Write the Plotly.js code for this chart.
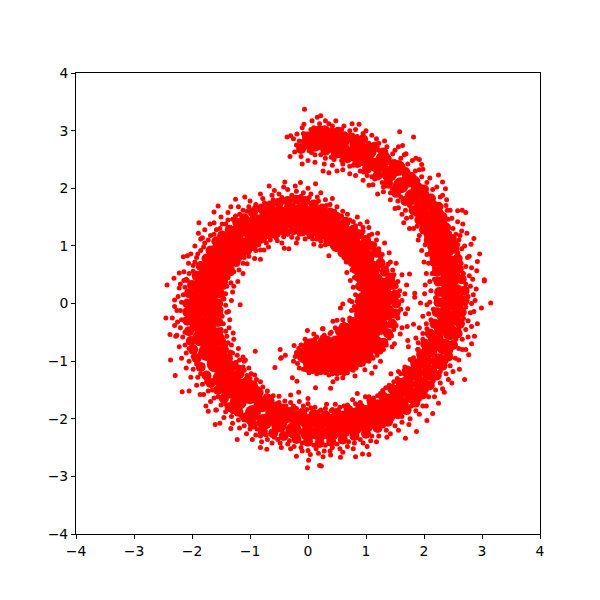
<!DOCTYPE html>
<html><head><meta charset="utf-8">
<script src="https://cdn.plot.ly/plotly-3.0.1.min.js"></script>
<style>html,body{margin:0;padding:0;background:#fff}</style></head>
<body><div id="chart" style="width:600px;height:600px"></div>
<script>
// Points. Dense parts merge into solid red, so the core and fill lists mark where that solid band runs.
const denseCore = [[-0.05,-0.9],[0.05,-0.75],[0.05,-1.0],[0.2,-0.8],[0.2,-1.0],[0.3,-0.7],[0.35,-0.9],[0.4,-1.05],[0.5,-0.7],[0.5,-0.9],[0.55,-1.05],[0.65,-0.6],[0.65,-0.8],[0.7,-1.0],[0.8,-0.5],[0.8,-0.7],[0.85,-0.9],[0.95,-0.4],[0.95,-0.6],[1.0,-0.8],[1.05,-0.3],[1.1,-0.5],[1.15,-0.7],[1.0,-0.15],[1.15,-0.2],[1.25,-0.4],[1.05,0.0],[1.2,0.0],[1.35,-0.15],[1.05,0.2],[1.2,0.2],[1.35,0.1],[1.0,0.4],[1.15,0.4],[1.3,0.3],[0.95,0.6],[1.1,0.6],[0.85,0.75],[1.0,0.8],[0.75,0.9],[0.9,0.95],[0.6,1.05],[0.75,1.1],[0.45,1.15],[0.6,1.25],[0.3,1.25],[0.45,1.35],[0.15,1.35],[0.3,1.45],[0,1.4],[0.1,1.55],[-0.15,1.45],[-0.1,1.6],[-0.3,1.45],[-0.3,1.6],[-0.45,1.4],[-0.5,1.55],[-0.6,1.35],[-0.7,1.5],[-0.8,1.25],[-0.9,1.4],[-0.95,1.15],[-1.05,1.3],[-1.15,1.0],[-1.25,1.2],[-1.3,0.85],[-1.4,1.05],[-1.45,0.7],[-1.55,0.9],[-1.55,0.5],[-1.65,0.7],[-1.6,0.3],[-1.75,0.5],[-1.7,0.1],[-1.85,0.3],[-1.7,-0.1],[-1.9,0.1],[-1.7,-0.3],[-1.9,-0.1],[-1.7,-0.5],[-1.9,-0.35],[-1.65,-0.7],[-1.85,-0.6],[-1.55,-0.9],[-1.75,-0.85],[-1.45,-1.1],[-1.6,-1.05],[-1.3,-1.3],[-1.5,-1.3],[-1.15,-1.45],[-1.35,-1.5],[-1.0,-1.6],[-1.2,-1.7]];
const armCore = [[-0.8,-1.75],[-0.95,-1.9],[-0.6,-1.9],[-0.75,-2.05],[-0.4,-1.95],[-0.5,-2.1],[-0.2,-2.0],[-0.25,-2.2],[0,-2.05],[0,-2.25],[0.2,-2.05],[0.2,-2.25],[0.4,-2.05],[0.4,-2.25],[0.6,-2.0],[0.6,-2.2],[0.8,-1.95],[0.8,-2.15],[1.0,-1.9],[1.0,-2.1],[1.2,-1.8],[1.2,-2.0],[1.4,-1.7],[1.4,-1.9],[1.55,-1.55],[1.6,-1.75],[1.7,-1.4],[1.8,-1.6],[1.85,-1.2],[1.95,-1.4],[2.0,-1.0],[2.1,-1.2],[2.1,-0.8],[2.25,-1.0],[2.2,-0.6],[2.35,-0.75],[2.3,-0.4],[2.45,-0.5],[2.35,-0.2],[2.5,-0.25],[2.4,0],[2.55,0],[2.4,0.2],[2.55,0.2],[2.4,0.4],[2.5,0.45],[2.35,0.6],[2.45,0.7],[2.3,0.8],[2.4,0.95],[2.2,1.0],[2.3,1.15],[2.15,1.25],[2.25,1.35],[2.05,1.45],[2.2,1.55],[1.95,1.65],[2.05,1.75],[1.8,1.85],[1.9,1.95],[1.6,2.05],[1.75,2.15],[1.4,2.25],[1.55,2.35],[1.2,2.4],[1.3,2.5],[1.0,2.5],[1.05,2.65],[0.8,2.6],[0.85,2.75],[0.6,2.65],[0.6,2.85],[0.4,2.75],[0.4,2.9],[0.2,2.8],[0.2,2.95],[0.05,2.85]];
const fillInnerOuter = [[0.0,-1.12],[0.15,-1.13],[0.3,-1.13],[0.45,-1.16],[0.6,-1.14],[0.75,-1.1],[0.9,-1.02],[1.05,-0.92],[1.2,-0.8],[1.3,-0.68],[1.38,-0.52],[1.45,-0.35],[1.5,-0.18],[1.52,0.0],[1.5,0.15],[1.47,0.32],[1.42,0.45],[1.32,0.55],[1.25,0.7],[1.18,0.88],[1.1,1.0],[1.0,1.1],[0.88,1.2],[0.78,1.28],[0.65,1.42],[0.5,1.5],[0.38,1.58],[0.25,1.65],[0.1,1.72],[-0.05,1.78],[-0.2,1.8],[-0.35,1.78],[-0.5,1.75],[-0.65,1.7],[-0.8,1.65],[-0.95,1.58],[-1.1,1.48],[-1.22,1.4],[-1.35,1.28],[-1.48,1.18],[-1.58,1.08],[-1.68,0.92],[-1.75,0.78],[-1.85,0.65],[-1.92,0.48],[-2.0,0.32],[-2.05,0.18],[-2.08,0.0],[-2.08,-0.15],[-2.08,-0.3],[-2.05,-0.48],[-2.02,-0.65],[-1.98,-0.8],[-1.92,-0.95],[-1.85,-1.1],[-1.75,-1.25],[-1.68,-1.38],[-1.55,-1.5],[-1.45,-1.65],[-1.35,-1.8],[-1.2,-1.88],[-1.08,-1.98]];
const fillInnerInner = [[0.55,-0.48],[0.65,-0.42],[0.78,-0.32],[0.88,-0.2],[0.9,-0.05],[0.92,0.1],[0.9,0.3],[0.88,0.45],[0.82,0.6],[0.7,0.76],[0.6,0.88],[0.48,0.98],[0.35,1.08],[0.2,1.18],[0.05,1.22],[-0.1,1.25],[-0.25,1.27],[-0.4,1.25],[-0.55,1.22],[-0.7,1.2],[-0.82,1.12],[-0.95,1.0],[-1.05,0.92],[-1.15,0.85],[-1.25,0.72],[-1.35,0.6],[-1.42,0.48],[-1.48,0.35],[-1.52,0.18],[-1.55,0.0],[-1.55,-0.15],[-1.55,-0.32],[-1.55,-0.5],[-1.5,-0.65],[-1.45,-0.8],[-1.38,-0.95],[-1.28,-1.08],[-1.18,-1.22],[-1.05,-1.35],[-0.95,-1.42],[-0.85,-1.55],[-0.7,-1.65]];
const fillArmInner = [[-0.62,-1.78],[-0.45,-1.82],[-0.3,-1.88],[-0.1,-1.9],[0.1,-1.92],[0.3,-1.94],[0.5,-1.9],[0.7,-1.85],[0.9,-1.8],[1.1,-1.72],[1.3,-1.62],[1.45,-1.48],[1.6,-1.38],[1.72,-1.22],[1.85,-1.05],[1.95,-0.88],[2.02,-0.7],[2.1,-0.52],[2.18,-0.35],[2.22,-0.15],[2.25,0.02],[2.26,0.2],[2.25,0.38],[2.22,0.55],[2.18,0.72],[2.15,0.88],[2.08,1.1],[2.0,1.28],[1.92,1.45],[1.82,1.62],[1.68,1.78],[1.52,1.92],[1.38,2.08],[1.2,2.22],[1.02,2.34],[0.85,2.44],[0.68,2.52],[0.48,2.6],[0.3,2.65],[0.12,2.72]];
const fillArmOuter = [[-0.95,-2.1],[-0.78,-2.22],[-0.6,-2.25],[-0.42,-2.3],[-0.2,-2.35],[0.0,-2.4],[0.2,-2.42],[0.4,-2.4],[0.6,-2.36],[0.8,-2.3],[1.0,-2.26],[1.2,-2.16],[1.38,-2.05],[1.55,-1.92],[1.7,-1.85],[1.85,-1.72],[1.98,-1.58],[2.1,-1.42],[2.22,-1.25],[2.32,-1.08],[2.42,-0.92],[2.5,-0.72],[2.58,-0.52],[2.62,-0.35],[2.65,-0.15],[2.7,0.05],[2.7,0.22],[2.65,0.42],[2.6,0.6],[2.58,0.78],[2.52,0.95],[2.48,1.12],[2.38,1.32],[2.32,1.5],[2.25,1.68],[2.12,1.82],[2.0,1.98],[1.85,2.12],[1.68,2.28],[1.48,2.42],[1.3,2.62],[1.15,2.72],[0.95,2.85],[0.75,2.88],[0.52,2.98],[0.3,3.0],[0.12,2.95],[-0.02,2.9],[0.0,2.75],[-0.12,2.68]];
const strayTopRight = [[-0.06,3.37],[-0.07,3.11],[0.07,3.17],[0.16,3.23],[0.22,3.26],[0.30,3.17],[0.48,3.17],[0.76,3.12],[0.88,3.11],[-0.36,2.89],[-0.30,2.91],[-0.19,2.94],[-0.31,2.55],[-0.23,2.63],[-0.10,2.42],[0.26,2.30],[0.36,2.27],[1.58,2.98],[1.82,2.89],[1.56,2.72],[1.63,2.74],[1.69,2.60],[1.86,2.52],[1.92,2.50],[1.98,2.33],[1.96,2.41],[2.25,2.23],[2.32,2.11],[2.37,1.99],[2.39,1.80],[2.58,1.61],[2.66,1.62],[2.72,1.58],[2.67,1.38],[2.65,1.26],[2.74,1.22],[2.86,1.13],[2.81,1.03],[2.96,0.86],[2.92,0.73],[2.91,0.57],[3.04,0.41]];
const strayLeft = [[-2.43,0.32],[-2.31,0.44],[-2.22,0.53],[-2.15,0.81],[-2.08,0.83],[-1.89,1.22],[-1.88,1.40],[-1.82,1.14],[-1.69,1.38],[-1.62,1.59],[-1.55,1.69],[-1.25,1.81],[-1.09,1.85],[-1.33,1.68],[-0.67,2.04],[-0.40,2.11],[-0.13,2.10],[0.13,2.08],[-2.45,-0.25],[-2.34,-0.25],[-2.30,-0.38],[-2.38,-0.54],[-2.28,-0.57],[-2.30,-0.05],[-2.30,0.06],[-2.22,0.27],[-2.14,0.40],[-1.17,-0.02],[-1.40,-0.15],[-1.37,-0.14],[-1.36,-0.42],[-1.29,-0.51],[-1.49,-0.57],[-1.40,-0.57],[-0.91,-0.83],[-1.21,0.38],[-1.33,0.36],[-1.42,0.17],[-1.19,0.58],[-1.05,0.69],[-0.82,0.77],[-0.76,0.93],[-0.82,0.93],[-0.53,1.09],[-0.41,0.96],[-0.33,0.95],[0.10,1.03],[0.22,1.00],[0.36,0.83]];
const strayTail = [[-0.48,-0.80],[-0.01,-0.47],[0.25,-0.44],[0.10,-0.53],[-0.24,-0.73],[-0.39,-0.90],[-0.47,-0.95],[-0.57,-1.11],[-0.46,-0.94],[-0.27,-1.29],[-0.19,-1.35],[0.13,-1.46],[0.60,-0.01],[0.56,-0.08],[0.76,0.03],[0.85,0.04],[0.43,-0.31],[0.50,-0.29],[0.26,-0.44],[0.73,0.40],[0.67,0.54],[0.81,-1.26],[0.60,-1.29],[0.50,-1.30],[0.43,-1.36],[0.39,-1.47]];
const strayBottom = [[-2.37,-0.98],[-2.29,-1.25],[-2.17,-1.53],[-2.05,-1.52],[-1.86,-1.58],[-1.76,-1.78],[-1.72,-1.87],[-1.59,-1.85],[-1.60,-2.10],[-1.52,-2.08],[-1.33,-2.17],[-1.22,-2.36],[-0.82,-2.50],[-0.71,-2.53],[-0.20,-2.65],[-0.01,-2.85],[0.01,-2.72],[0.20,-2.81],[0.26,-2.66],[-1.12,-0.93],[-1.10,-1.00],[-1.19,-1.10],[-1.05,-1.25],[-0.89,-1.32],[-0.90,-1.46],[-0.60,-1.60],[-0.50,-1.61],[-0.40,-1.69],[-0.30,-1.59],[-0.30,-1.72],[-0.16,-1.54],[-0.15,-1.70],[0.00,-1.65],[0.00,-1.74],[0.05,-1.81],[0.30,-1.82]];
const strayRight = [[3.15,0.01],[3.04,0.39],[2.99,-0.08],[2.92,-0.35],[2.87,-0.57],[2.82,-0.70],[2.77,-0.89],[2.72,-0.80],[2.70,-1.32],[2.61,-1.14],[2.48,-1.38],[2.35,-1.54],[2.25,-1.73],[2.15,-1.91],[2.05,-2.03],[1.87,-2.22],[1.68,-2.34],[1.36,-2.32],[1.05,-2.62],[0.94,-2.61],[0.82,-2.66],[0.56,-2.67],[0.39,-2.63],[0.23,-2.82],[1.94,0.01],[2.01,0.17],[1.82,-0.36],[1.72,-0.64],[1.73,-0.75],[1.89,-0.80],[1.76,-0.97],[1.67,-1.10],[1.56,-1.18],[1.43,-1.22],[1.29,-1.51],[1.13,-1.64],[0.99,-1.62],[0.85,-1.56],[0.77,-1.67],[0.47,-1.75],[0.32,-1.75],[1.75,0.51],[1.84,0.18],[1.84,0.11],[1.72,-0.09],[1.71,-0.40],[1.67,0.17],[1.59,-0.53],[1.49,-0.70],[1.19,-0.90],[1.16,-1.10],[1.10,-1.21]];
const edgeTailArc = [[-0.2,-0.85],[-0.25,-1.0],[-0.15,-1.12],[-0.05,-0.62],[0.02,-1.2],[0.12,-0.62],[0.15,-1.22],[0.28,-0.55],[0.3,-1.2],[0.38,-0.52],[0.42,-1.22],[0.55,-1.2],[0.47,-0.42],[0.68,-1.2],[0.58,-0.38],[0.6,-0.28],[0.83,-1.12],[0.72,-0.25],[0.95,-1.05],[1.05,-1.0],[0.75,-0.12],[0.72,0.05],[1.3,-0.8],[0.8,-0.05],[1.4,-0.6],[1.48,-0.45],[0.82,0.15],[0.78,0.28],[1.55,-0.25],[1.6,-0.1],[1.62,0.05],[0.8,0.45],[1.58,0.22],[0.76,0.58],[1.55,0.38],[0.66,0.72],[1.48,0.5],[0.55,0.88],[1.35,0.62],[1.42,0.72],[0.42,1.0],[1.28,0.85],[1.22,0.95],[1.18,1.1],[1.1,1.2],[0.95,1.25],[1.05,1.32],[0.9,1.38],[0.78,1.42],[0.85,1.5],[0.68,1.55],[0.6,1.6],[0.5,1.68],[0.38,1.72],[0.3,1.8],[0.16,1.85],[0.05,1.9],[-0.08,1.92],[-0.2,1.95],[-0.35,1.98],[-0.5,1.9],[-0.62,1.88],[-0.78,1.82],[-0.9,1.72],[-1.02,1.68],[-1.12,1.62],[0.22,1.08],[0.08,1.12],[-0.05,1.12],[-0.18,1.13],[-0.28,1.15],[-0.42,1.16],[-0.55,1.14],[-0.65,1.1],[-0.72,1.05],[-0.85,1.02],[-0.9,0.92]];
const edgeLeftArc = [[-1.25,1.52],[-1.38,1.45],[-1.48,1.38],[-1.58,1.28],[-1.68,1.18],[-1.78,1.05],[-1.85,0.92],[-1.92,0.8],[-1.98,0.66],[-2.05,0.52],[-2.08,0.4],[-2.12,0.28],[-2.15,0.15],[-2.18,0.02],[-2.2,-0.12],[-2.18,-0.28],[-2.2,-0.42],[-2.16,-0.58],[-2.12,-0.72],[-2.1,-0.86],[-2.05,-1.0],[-1.98,-1.14],[-1.9,-1.28],[-1.82,-1.4],[-1.72,-1.52],[-1.62,-1.64],[-1.5,-1.76],[-1.42,-1.88],[-1.32,-1.96],[-1.2,-2.02],[-1.1,-2.12],[-1.0,-2.18],[-0.9,-2.28],[-1.02,0.82],[-1.12,0.7],[-1.18,0.78],[-1.22,0.68],[-1.28,0.55],[-1.38,0.45],[-1.4,0.3],[-1.45,0.28],[-1.45,0.08],[-1.42,-0.03],[-1.48,-0.22],[-1.46,-0.35],[-1.42,-0.48],[-1.38,-0.68],[-1.32,-0.72],[-1.3,-0.86],[-1.22,-0.9],[-1.18,-0.98],[-1.12,-1.1],[-1.02,-1.12],[-0.98,-1.22],[-0.92,-1.24],[-0.82,-1.36],[-0.78,-1.45],[-0.7,-1.52]];
const edgeBottomArc = [[-0.82,-2.3],[-0.7,-2.36],[-0.58,-2.32],[-0.48,-2.42],[-0.35,-2.44],[-0.24,-2.48],[-0.12,-2.5],[0.0,-2.55],[0.14,-2.52],[0.28,-2.56],[0.42,-2.5],[0.55,-2.52],[0.68,-2.48],[0.8,-2.42],[0.95,-2.42],[1.08,-2.38],[1.22,-2.3],[1.35,-2.2],[1.5,-2.12],[1.62,-2.06],[1.76,-2.0],[1.86,-1.86],[1.98,-1.78],[2.08,-1.62],[2.2,-1.5],[2.28,-1.38],[2.38,-1.22],[2.45,-1.08],[2.54,-0.95],[2.6,-0.78],[2.66,-0.62],[2.72,-0.45],[2.76,-0.3],[2.8,-0.16],[2.82,0.0],[2.85,0.15],[2.8,0.3],[2.78,0.48],[2.72,0.64],[2.75,0.8],[2.65,0.95],[2.6,1.1],[2.5,1.3],[2.48,1.48],[2.4,1.62],[-0.5,-1.72],[-0.62,-1.68],[-0.25,-1.78],[-0.08,-1.78],[0.12,-1.8],[0.22,-1.85],[0.42,-1.84],[0.55,-1.8],[0.68,-1.76],[0.9,-1.72],[1.05,-1.68],[1.2,-1.6],[1.34,-1.46],[1.48,-1.36],[1.6,-1.22],[1.72,-1.12],[1.82,-0.94],[1.9,-0.68],[1.98,-0.52],[2.04,-0.35],[2.08,-0.18],[2.1,0.02],[2.12,0.22],[2.1,0.38],[2.14,0.52]];
const edgeUpperArm = [[2.08,0.7],[2.05,0.85],[2.02,1.02],[1.92,1.18],[1.88,1.34],[1.78,1.5],[1.68,1.62],[1.55,1.78],[1.42,1.92],[1.3,2.02],[1.15,2.16],[1.02,2.22],[0.9,2.3],[0.72,2.38],[0.6,2.42],[0.45,2.5],[0.3,2.52],[0.12,2.58],[0.02,2.65],[-0.08,2.75],[-0.15,2.82],[-0.08,2.95],[0.1,3.05],[0.28,3.05],[0.42,3.08],[0.58,3.02],[0.72,3.0],[0.95,2.95],[1.1,2.92],[1.22,2.78],[1.36,2.72],[1.46,2.6],[1.6,2.52],[1.72,2.42],[1.85,2.3],[1.96,2.2],[2.05,2.1],[2.15,1.98],[2.28,1.85],[2.38,1.7],[2.42,1.46],[2.55,1.2],[2.58,1.02],[1.5,1.65],[1.65,1.4],[1.75,1.3],[0.5,2.3],[0.72,2.25],[1.05,2.05],[1.2,1.9],[1.62,1.55]];
const stippleExtra = [[-2.0,0.1],[-2.02,-0.08],[-2.0,-0.22],[-2.12,-0.5],[-2.1,0.42],[-1.98,0.56],[-1.95,0.72],[-1.9,0.86],[-1.8,0.98],[-1.72,1.1],[-1.62,1.2],[-1.52,1.3],[-1.42,1.38],[-1.3,1.46],[-1.18,1.55],[-1.05,1.6],[-0.92,1.66],[-0.75,1.75],[-0.6,1.8],[-0.45,1.84],[-0.28,1.88],[-0.12,1.86],[0.02,1.84],[0.18,1.78],[0.32,1.7],[0.46,1.6],[0.58,1.52],[0.72,1.45],[0.82,1.35],[0.95,1.32],[1.05,1.18],[1.15,1.02],[1.25,0.8],[1.38,0.68],[1.46,0.58],[-2.05,-0.78],[-1.98,-0.92],[-1.92,-1.05],[-1.85,-1.22],[-1.75,-1.36],[-1.65,-1.5],[-1.55,-1.62],[-1.42,-1.75],[-1.3,-1.88],[-1.15,-1.95],[-1.02,-2.05],[-0.88,-2.18],[-0.72,-2.28],[-0.52,-2.36],[-0.32,-2.38],[-0.1,-2.42],[0.1,-2.46],[0.3,-2.46],[0.5,-2.44],[0.7,-2.4],[0.9,-2.36],[1.1,-2.3],[1.3,-2.12],[1.45,-2.0],[1.62,-1.96],[1.78,-1.78],[1.92,-1.66],[2.04,-1.5],[2.16,-1.34],[2.28,-1.18],[2.38,-1.0],[2.46,-0.82],[2.55,-0.62],[2.6,-0.44],[2.68,-0.26],[2.72,-0.06],[2.76,0.12],[2.72,0.34],[2.68,0.52],[2.64,0.7],[2.58,0.88],[2.54,1.06],[2.44,1.22],[2.36,1.4],[2.3,1.58],[2.18,1.75],[2.05,1.9],[1.92,2.05],[1.78,2.2],[1.58,2.34],[1.4,2.52],[1.22,2.66],[1.05,2.78],[0.85,2.9],[0.64,2.94],[0.42,3.02],[0.18,3.0],[0.05,3.02],[-0.08,2.82],[-0.14,2.74],[0.06,2.62],[0.22,2.58],[0.4,2.54],[0.58,2.48],[0.78,2.4],[0.96,2.28],[1.1,2.2],[1.28,2.1],[1.45,2.0],[1.6,1.85],[1.75,1.7],[1.86,1.55],[1.96,1.36],[2.04,1.18],[2.1,0.98],[2.14,0.78],[2.18,0.62],[2.18,0.42],[2.2,0.1],[2.16,-0.1],[2.12,-0.28],[2.05,-0.44],[1.98,-0.62],[1.9,-0.8],[1.8,-1.0],[1.66,-1.16],[1.54,-1.3],[1.4,-1.42],[1.25,-1.56],[1.05,-1.62],[0.82,-1.74],[0.62,-1.78],[0.4,-1.86],[0.18,-1.88],[-0.02,-1.84],[-0.2,-1.82],[-0.38,-1.78],[-0.55,-1.74],[-0.72,-1.6],[-0.86,-1.48],[-1.0,-1.3],[-1.1,-1.16],[-1.24,-1.02],[-1.34,-0.84],[-1.42,-0.72],[-1.5,-0.45],[-1.5,-0.1],[-1.47,0.1],[-1.42,0.38],[-1.32,0.52],[-1.2,0.75],[-1.1,0.8],[-0.98,0.95],[-0.75,1.12],[-0.6,1.17],[-0.35,1.2],[-0.15,1.2],[0.02,1.16],[0.15,1.12],[0.3,1.02],[0.5,0.94],[0.62,0.8],[0.74,0.68],[0.84,0.52],[0.86,0.3],[0.86,0.08],[0.82,-0.12],[0.72,-0.3],[0.62,-0.36],[0.5,-0.46],[0.4,-0.5],[0.25,-0.58],[0.15,-0.58],[0.0,-0.66],[-0.12,-0.72],[-0.16,-0.78],[-0.22,-0.92],[-0.18,-1.04],[-0.08,-1.14],[0.08,-1.18],[0.22,-1.2],[0.36,-1.24],[0.5,-1.22],[0.62,-1.22],[0.78,-1.16],[0.98,-1.0],[1.12,-0.95],[1.25,-0.84],[1.35,-0.72],[1.44,-0.56],[1.52,-0.38],[1.56,-0.14],[1.56,0.14],[1.52,0.3]];
const secondPass = [[-0.12,2.55],[0.0,2.48],[0.12,2.45],[0.28,2.42],[0.42,2.4],[0.6,2.32],[0.82,2.22],[0.95,2.14],[1.12,2.06],[1.3,1.94],[1.42,1.8],[1.56,1.66],[1.7,1.48],[1.82,1.3],[1.9,1.1],[1.96,0.92],[2.0,0.72],[2.04,0.52],[2.02,0.32],[2.05,-0.02],[1.98,-0.22],[1.92,-0.42],[1.86,-0.6],[-0.2,2.75],[-0.25,2.86],[-0.1,3.05],[0.2,3.12],[0.36,3.12],[0.62,3.08],[0.82,3.02],[1.0,3.0],[1.18,2.86],[1.32,2.82],[1.5,2.66],[1.66,2.58],[1.8,2.48],[1.92,2.32],[2.1,2.18],[2.22,2.02],[2.32,1.88],[2.45,1.62],[2.58,1.42],[2.62,1.18],[2.7,1.0],[2.78,0.82],[2.82,0.62],[2.84,0.42],[2.9,0.25],[2.88,0.05],[2.86,-0.14],[2.82,-0.4],[2.76,-0.58],[2.66,-0.8],[2.6,-0.98],[2.5,-1.18],[2.42,-1.32],[2.32,-1.48],[2.18,-1.62],[2.04,-1.78],[1.92,-1.92],[1.74,-2.1],[1.56,-2.2],[1.42,-2.26],[1.18,-2.4],[1.02,-2.48],[0.78,-2.52],[0.6,-2.58],[0.38,-2.56],[0.18,-2.6],[0.04,-2.62],[-0.1,-2.56],[-0.3,-2.52],[-0.46,-2.5],[-0.62,-2.42],[-0.8,-2.4],[-0.96,-2.36],[-1.06,-2.26],[-1.18,-2.16],[-1.3,-2.08],[-1.45,-1.98],[-1.58,-1.85],[-1.68,-1.7],[-1.8,-1.58],[-1.92,-1.42],[-2.02,-1.28],[-2.1,-1.12],[-2.18,-0.95],[-2.22,-0.75],[-2.26,-0.55],[-2.25,-0.32],[-2.26,-0.12],[-2.24,0.12],[-2.2,0.34],[-2.14,0.55],[-2.06,0.7],[-2.02,0.86],[-1.95,1.0],[-1.85,1.12],[-1.78,1.28],[-1.62,1.4],[-1.5,1.5],[-1.38,1.58],[-1.2,1.68],[-1.0,1.78],[-0.82,1.9],[-0.58,1.96],[-0.42,2.02],[-0.22,2.04],[0.0,2.0],[0.22,1.92],[0.42,1.82],[-1.3,0.2],[-1.32,0.05],[-1.35,-0.28],[-1.28,-0.62],[-1.2,-0.78],[-1.08,-0.98],[-1.28,0.3],[-1.12,0.52],[-0.92,0.78],[-0.68,0.98],[-0.45,1.05],[-0.2,1.05],[0.98,-1.15],[1.25,-1.0],[1.45,-0.75],[1.62,-0.42],[1.68,-0.18],[1.7,0.32],[1.62,0.5],[1.52,0.7],[1.4,0.88],[1.32,1.05],[1.2,1.22],[1.02,1.42]];
const allSmall = [].concat(strayTopRight,strayLeft,strayTail,strayBottom,strayRight,edgeTailArc,edgeLeftArc,edgeBottomArc,edgeUpperArm,stippleExtra,secondPass);
const allFill = [].concat(fillInnerOuter,fillInnerInner,fillArmInner,fillArmOuter);
const tickVals = [-4,-3,-2,-1,0,1,2,3,4];
const pick = (list,i)=>list.map(p=>p[i]);
const trace = (list,size)=>({type:'scatter',mode:'markers',x:pick(list,0),y:pick(list,1),marker:{color:'#ff0000',size:size,line:{width:0}},hoverinfo:'skip',showlegend:false});
const axis = ()=>({range:[-4,4],tickmode:'array',tickvals:tickVals,showgrid:false,zeroline:false,showline:true,mirror:true,linecolor:'#000',linewidth:1,ticks:'outside',ticklen:4,tickwidth:1,tickcolor:'#000',tickfont:{family:'DejaVu Sans',size:13.9,color:'#000'}});
Plotly.newPlot('chart',[trace(denseCore,17),trace(armCore,16),trace(allFill,10),trace(allSmall,5)],{
 width:600,height:600,margin:{l:75.5,r:59.5,t:72.5,b:65.5,pad:0},paper_bgcolor:'#fff',plot_bgcolor:'#fff',showlegend:false,xaxis:axis(),yaxis:axis()
},{displayModeBar:false,staticPlot:true});
</script></body></html>
